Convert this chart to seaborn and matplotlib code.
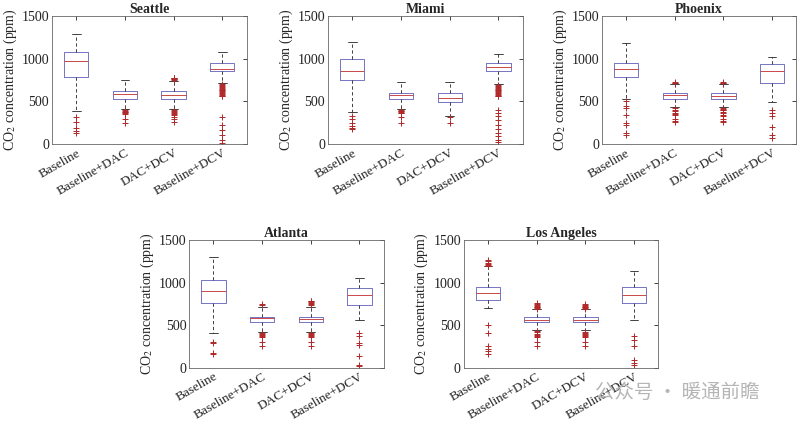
import matplotlib
matplotlib.use("Agg")
import matplotlib.pyplot as plt
import seaborn as sns

# Data (ppm)
cities = ["Seattle", "Miami", "Phoenix", "Atlanta", "Los Angeles"]
groups = ["Baseline", "Baseline+DAC", "DAC+DCV", "Baseline+DCV"]

whis_low = [[390, 409, 409, 713], [374, 417, 331, 700], [534, 432, 432, 499],
            [407, 419, 419, 562], [709, 446, 446, 562]]
q1 = [[787, 534, 534, 853], [748, 534, 499, 857], [783, 534, 534, 713],
      [756, 539, 535, 744], [795, 539, 539, 756]]
median = [[974, 588, 580, 880], [861, 577, 545, 905], [877, 577, 570, 857],
          [903, 581, 574, 853], [880, 562, 562, 853]]
q3 = [[1075, 619, 619, 947], [1001, 604, 604, 955], [947, 604, 604, 935],
      [1035, 601, 601, 942], [950, 593, 593, 950]]
whis_high = [[1290, 752, 745, 1083], [1200, 732, 732, 1052], [1180, 705, 705, 1025],
             [1298, 717, 717, 1058], [1190, 686, 686, 1136]]

outliers = [
    [[320, 260, 195, 160, 130],
     [395, 385, 380, 375, 365, 355, 300, 250],
     [780, 775, 770, 765, 760, 755, 395, 385, 380, 370, 355, 340, 320, 300, 260],
     [700, 690, 680, 670, 660, 650, 640, 630, 620, 610, 600, 590, 580, 570, 560,
      320, 230, 170, 110, 50, 15]],
    [[330, 290, 250, 210, 190, 175],
     [400, 390, 385, 380, 370, 360, 320, 250],
     [320, 250],
     [690, 680, 670, 660, 650, 640, 630, 620, 610, 600, 590, 580, 570, 560,
      400, 370, 325, 280, 225, 175, 130, 90, 50, 20]],
    [[510, 450, 420, 340, 250, 220, 130, 110],
     [730, 720, 712, 420, 400, 390, 370, 350, 340, 300, 270, 255],
     [730, 720, 712, 425, 415, 405, 395, 380, 360, 345, 330, 300, 275, 255],
     [400, 360, 325, 205, 110, 70]],
    [[300, 290, 175, 160],
     [745, 735, 405, 395, 385, 375, 368, 310, 260],
     [790, 780, 770, 760, 745, 735, 405, 395, 385, 375, 368, 310, 260],
     [415, 370, 290, 270, 145, 40, 20]],
    [[1265, 1250, 1235, 1220, 1205, 1195, 505, 410, 260, 220, 195, 165],
     [760, 750, 740, 730, 720, 710, 700, 690, 430, 420, 400, 385, 375, 365, 310, 260],
     [750, 740, 730, 720, 710, 700, 690, 425, 410, 395, 385, 375, 365, 310, 260],
     [370, 330, 260, 95, 60, 40]],
]

sns.set_style("white")
plt.rcParams["font.family"] = ["Liberation Serif", "DejaVu Serif"]
plt.rcParams["mathtext.fontset"] = "stix"

fig = plt.figure(figsize=(7.98, 4.24), dpi=100)

# axes placement (fig fractions)
positions = [(0.065, 0.660), (0.411, 0.660), (0.754, 0.660),
             (0.237, 0.132), (0.581, 0.132)]
w, h = 0.244, 0.302

for i, city in enumerate(cities):
    ax = fig.add_axes([positions[i][0], positions[i][1], w, h])
    stats = []
    for j, g in enumerate(groups):
        stats.append({
            "label": g,
            "whislo": whis_low[i][j],
            "q1": q1[i][j],
            "med": median[i][j],
            "q3": q3[i][j],
            "whishi": whis_high[i][j],
            "fliers": outliers[i][j],
        })
    ax.bxp(stats, widths=0.5, capwidths=0.18, showfliers=True,
           boxprops=dict(color="#7474c4", linewidth=0.7),
           medianprops=dict(color="#c84848", linewidth=0.7),
           whiskerprops=dict(color="#222222", linewidth=0.6, linestyle=(0, (4, 3))),
           capprops=dict(color="#222222", linewidth=0.6),
           flierprops=dict(marker="+", markeredgecolor="#b02828", markersize=4,
                           markeredgewidth=0.7))
    ax.set_xlim(0.5, 4.5)
    ax.set_ylim(0, 1500)
    ax.set_yticks([0, 500, 1000, 1500])
    ax.set_xticks([1, 2, 3, 4])
    ax.set_xticklabels(groups, rotation=30, ha="right", rotation_mode="anchor",
                       fontsize=9.5)
    ax.tick_params(axis="both", direction="in", length=3, width=0.6,
                   top=True, right=True, labelsize=10, colors="#222222")
    ax.tick_params(axis="x", labelsize=9.5, pad=2)
    ax.tick_params(axis="y", pad=2)
    for s in ax.spines.values():
        s.set_color("#666666")
        s.set_linewidth(0.6)
    ax.set_title(city, fontsize=10, fontweight="bold", pad=2)
    ax.set_ylabel("CO$_2$ concentration (ppm)", fontsize=10, labelpad=2)

fig.text(0.745, 0.075, "公众号 · 暖通前瞻", fontsize=14, color="#b5b5b5",
         family=["Noto Sans CJK SC", "DejaVu Sans"], ha="left", va="center")

fig.savefig("out.png", dpi=100)
